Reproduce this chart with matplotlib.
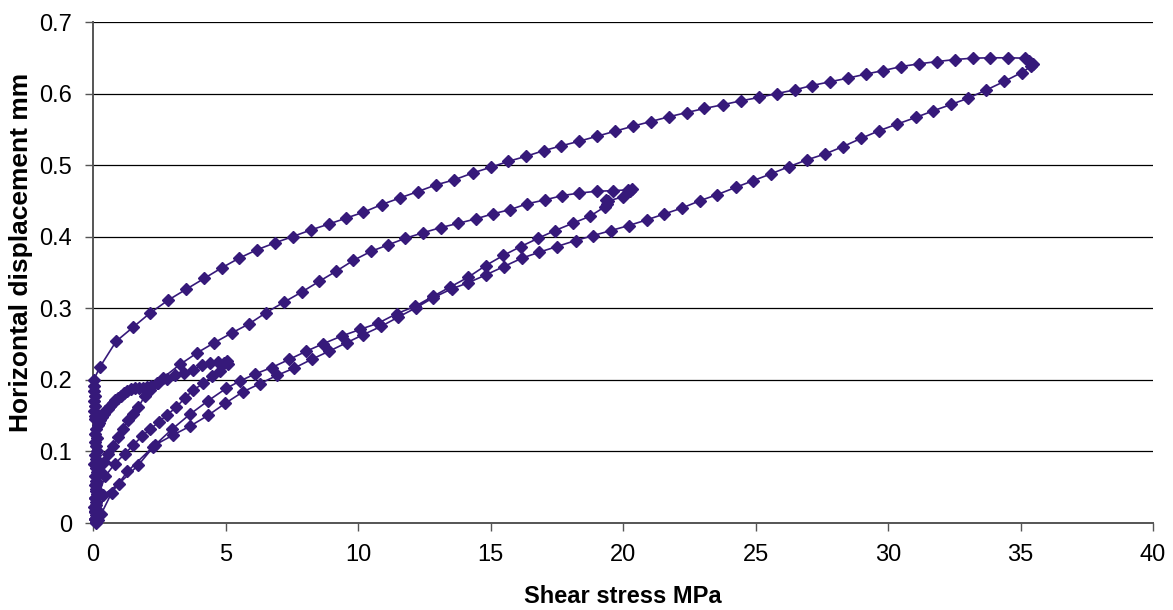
import matplotlib
matplotlib.use("Agg")
import matplotlib.pyplot as plt
import numpy as np

# ---- data (shear stress MPa, horizontal displacement mm) ----
# cycle 1: load to ~5 MPa
load1_x = [0.06, 0.12, 0.22, 0.45, 0.83, 1.21, 1.52, 1.84, 2.15, 2.48, 2.79, 3.15,
           3.47, 3.79, 4.16, 4.48, 4.79, 5.11]
load1_y = [0.005, 0.020, 0.040, 0.065, 0.083, 0.097, 0.109, 0.121, 0.131, 0.141, 0.151, 0.162,
           0.175, 0.186, 0.195, 0.205, 0.213, 0.222]
unload1_x = [5.05, 4.95, 4.73, 4.42, 4.10, 3.79, 3.45, 3.09, 2.78, 2.46, 2.15, 1.95,
             1.71, 1.52, 1.33, 1.15, 0.96, 0.77, 0.58, 0.40, 0.22]
unload1_y = [0.226, 0.224, 0.225, 0.2236, 0.2204, 0.2143, 0.2101, 0.2064, 0.2018, 0.1957, 0.1865, 0.177,
             0.162, 0.153, 0.144, 0.132, 0.120, 0.108, 0.097, 0.085, 0.074]
rec1_x = [0.15, 0.10, 0.12, 0.08, 0.10, 0.06, 0.08]
rec1_y = [0.065, 0.055, 0.045, 0.035, 0.025, 0.015, 0.005]

# cycle 2: load to ~20 MPa
load2_x = [0.12, 0.30, 0.70, 1.30, 2.25, 2.98, 3.66, 4.35, 5.02, 5.55, 6.10, 6.74, 7.41, 8.04,
           8.69, 9.38, 10.08, 10.77, 11.46, 12.15, 12.82, 13.47, 14.16, 14.82, 15.48, 16.14,
           16.80, 17.43, 18.10, 18.75, 19.32, 19.38, 19.36, 19.45, 20.01, 20.26]
load2_y = [0.000, 0.012, 0.042, 0.072, 0.106, 0.131, 0.152, 0.171, 0.188, 0.1985, 0.208, 0.2172, 0.2287, 0.2399,
           0.2506, 0.2612, 0.2705, 0.2794, 0.2925, 0.3027, 0.3166, 0.3296, 0.3435, 0.3598, 0.3738, 0.3863,
           0.3979, 0.4086, 0.4188, 0.4286, 0.4420, 0.4459, 0.4515, 0.4500, 0.4560, 0.4644]
unload2_x = [20.32, 20.20, 19.63, 19.00, 18.34, 17.71, 17.06, 16.37, 15.74, 15.08, 14.45, 13.79,
             13.12, 12.44, 11.79, 11.14, 10.48, 9.82, 9.16, 8.53, 7.87, 7.21, 6.53, 5.90, 5.23,
             4.58, 3.94, 3.28, 2.65, 2.40, 2.20, 2.05, 1.90, 1.75, 1.60, 1.45, 1.30, 1.18, 1.06,
             0.95, 0.84, 0.74, 0.64, 0.55, 0.47, 0.40, 0.33, 0.27, 0.22, 0.18]
unload2_y = [0.466, 0.4655, 0.4644, 0.4635, 0.461, 0.4575, 0.4515, 0.4459, 0.4379, 0.4319, 0.425, 0.4188,
             0.4128, 0.4054, 0.3979, 0.3887, 0.3794, 0.3668, 0.3515, 0.3375, 0.3226, 0.3087, 0.2939, 0.2785, 0.2654,
             0.252, 0.238, 0.2215, 0.2032, 0.195, 0.191, 0.1895, 0.189, 0.189, 0.1885, 0.187, 0.184, 0.181, 0.178,
             0.175, 0.172, 0.168, 0.164, 0.160, 0.156, 0.152, 0.148, 0.144, 0.140, 0.137]
rec2_x = [0.12, 0.08, 0.14, 0.06, 0.11, 0.16, 0.07, 0.12, 0.05, 0.10, 0.15, 0.08, 0.12,
          0.06, 0.10, 0.14, 0.07, 0.11, 0.05, 0.09, 0.13, 0.07, 0.10]
rec2_y = [0.131, 0.125, 0.119, 0.113, 0.107, 0.101, 0.095, 0.089, 0.083, 0.077, 0.071, 0.065, 0.059,
          0.053, 0.047, 0.041, 0.035, 0.029, 0.023, 0.017, 0.011, 0.006, 0.002]

# cycle 3: load to ~35 MPa
load3_x = [0.20, 0.39, 0.98, 1.71, 2.34, 3.01, 3.66, 4.35, 4.98, 5.65, 6.30, 6.95, 7.60, 8.25,
           8.92, 9.57, 10.20, 10.87, 11.52, 12.19, 12.84, 13.54, 14.16, 14.83, 15.51, 16.18,
           16.84, 17.50, 18.21, 18.88, 19.55, 20.21, 20.89, 21.56, 22.24, 22.91, 23.56, 24.26,
           24.92, 25.57, 26.26, 26.93, 27.62, 28.29, 28.98, 29.66, 30.35, 31.05, 31.71, 32.38,
           33.03, 33.70, 34.38, 35.04, 35.40, 35.48]
load3_y = [0.004, 0.039, 0.055, 0.081, 0.109, 0.1227, 0.1353, 0.1506, 0.167, 0.1831, 0.1948, 0.2064, 0.2166, 0.2287,
           0.2403, 0.252, 0.2632, 0.2748, 0.2877, 0.3008, 0.3148, 0.3273, 0.3357, 0.3468, 0.3584, 0.370,
           0.3784, 0.3863, 0.3947, 0.4017, 0.4086, 0.4156, 0.4235, 0.4319, 0.4403, 0.4505, 0.4589, 0.4691,
           0.4784, 0.4877, 0.4979, 0.5073, 0.5156, 0.5258, 0.5374, 0.5481, 0.5575, 0.5667, 0.5760, 0.5848,
           0.5937, 0.6049, 0.6169, 0.6294, 0.6380, 0.641]
unload3_x = [35.30, 35.17, 34.54, 33.85, 33.19, 32.53, 31.86, 31.17, 30.50, 29.82, 29.16, 28.48,
             27.81, 27.13, 26.49, 25.81, 25.13, 24.46, 23.76, 23.07, 22.40, 21.72, 21.05, 20.38,
             19.70, 19.03, 18.35, 17.67, 17.00, 16.33, 15.67, 15.00, 14.33, 13.63, 12.94, 12.25,
             11.58, 10.89, 10.20, 9.54, 8.92, 8.23, 7.54, 6.87, 6.18, 5.51, 4.86, 4.19, 3.51,
             2.84, 2.15, 1.52, 0.87, 0.26, 0.02]
unload3_y = [0.645, 0.6495, 0.650, 0.650, 0.6495, 0.6476, 0.6448, 0.6416, 0.6378, 0.6322, 0.6272, 0.6216,
             0.6165, 0.6113, 0.6053, 0.6001, 0.5946, 0.590, 0.5844, 0.5792, 0.5735, 0.5675, 0.561, 0.5545,
             0.5475, 0.5405, 0.5335, 0.527, 0.5202, 0.5123, 0.5053, 0.4970, 0.4891, 0.4795, 0.4724, 0.4630,
             0.4542, 0.4449, 0.4342, 0.4258, 0.4180, 0.4096, 0.4003, 0.3915, 0.3817, 0.3700, 0.3566, 0.3417, 0.3264,
             0.3115, 0.2933, 0.2738, 0.2538, 0.218, 0.1994]
rec3_x = [0.05, 0.03, 0.06, 0.04, 0.07, 0.05, 0.08, 0.06]
rec3_y = [0.192, 0.185, 0.178, 0.171, 0.164, 0.157, 0.150, 0.145]

x_ticks = [0, 5, 10, 15, 20, 25, 30, 35, 40]
y_ticks = [0, 0.1, 0.2, 0.3, 0.4, 0.5, 0.6, 0.7]
y_ticklabels = ['0', '0.1', '0.2', '0.3', '0.4', '0.5', '0.6', '0.7']

LINE_C = '#36197a'

plt.rcParams['font.family'] = ['Liberation Sans', 'DejaVu Sans']

stress = np.concatenate([load1_x, unload1_x, rec1_x, load2_x, unload2_x, rec2_x,
                         load3_x, unload3_x, rec3_x])
disp = np.concatenate([load1_y, unload1_y, rec1_y, load2_y, unload2_y, rec2_y,
                       load3_y, unload3_y, rec3_y])

fig = plt.figure(figsize=(11.73, 6.10), dpi=100)
ax = fig.add_axes([0.0793, 0.1426, 0.9037, 0.8213])

ax.plot(stress, disp, color=LINE_C, lw=1.2, marker='D', ms=6.3, mec=LINE_C, mfc=LINE_C,
        clip_on=False, zorder=3)

ax.set_xlim(0, 40)
ax.set_ylim(0, 0.7)
ax.set_xticks(x_ticks)
ax.set_yticks(y_ticks)
ax.set_yticklabels(y_ticklabels)
ax.yaxis.grid(True, color='black', lw=0.9)
ax.set_axisbelow(True)

for s in ['top', 'right']:
    ax.spines[s].set_visible(False)
for s in ['left', 'bottom']:
    ax.spines[s].set_color('#555555')
    ax.spines[s].set_linewidth(1.4)

ax.tick_params(axis='both', direction='out', length=6, width=1, color='#555555',
               labelsize=17, pad=9)
ax.set_xlabel('Shear stress MPa', fontsize=17, fontweight='bold', labelpad=14)
ax.set_ylabel('Horizontal displacement mm', fontsize=19, fontweight='bold')
ax.yaxis.set_label_coords(-0.057, 0.54)

fig.savefig('out.png', dpi=100)
